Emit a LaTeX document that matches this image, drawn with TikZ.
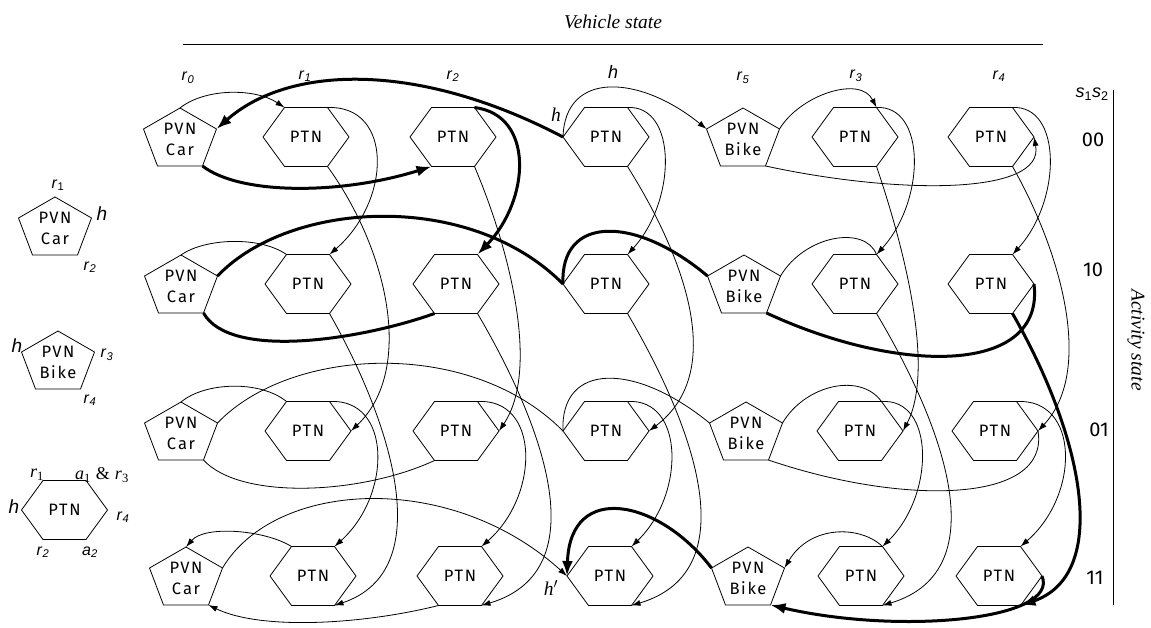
\documentclass[tikz,border=0pt]{standalone}
\usepackage{fontspec}
\setmainfont{Liberation Sans}
\newfontfamily\boxfont[LetterSpace=10]{Fira Sans}
\newfontfamily\digitfont{Fira Sans}
\newfontfamily\seriffont{Liberation Serif}
\usetikzlibrary{arrows.meta}
\newcommand\ptnnode[3]{%
  \node[boxtext] (#1) at (#2,#3) {PTN};
  \begin{scope}[shift={(#2,#3)}]
    \draw[outline] (-43,0) coordinate (#1-l) -- (-21.5,-29.5) coordinate (#1-tl)
      -- (21.5,-29.5) coordinate (#1-tr) -- (43,0) coordinate (#1-r)
      -- (21.5,29.5) coordinate (#1-br) -- (-21.5,29.5) coordinate (#1-bl) -- cycle;
  \end{scope}}
\newcommand\pvnnode[4]{%
  \node[boxtext] (#1) at (#2,#3+2) {PVN\\#4};
  \begin{scope}[shift={(#2,#3)}]
    \draw[outline] (0,-29) coordinate (#1-t) -- (36.5,-8) coordinate (#1-r)
      -- (22.5,29) coordinate (#1-br) -- (-22.5,29) coordinate (#1-bl)
      -- (-36.5,-8) coordinate (#1-l) -- cycle;
  \end{scope}}
\newcommand\sr[2]{{\seriffont\itshape #1}\textsubscript{\seriffont #2}}
\begin{document}
\begin{tikzpicture}[x=1pt,y=-1pt,
  outline/.style={line width=0.8pt},
  boxtext/.style={font=\boxfont\fontsize{16.5}{21}\selectfont,inner sep=0pt,align=center},
  conn/.style={line width=0.8pt},
  connarr/.style={conn,-{Latex[length=9pt,width=6pt]}},
  heavy/.style={line width=3pt},
  heavyarr/.style={heavy,-{Latex[length=15pt,width=11pt]}},
  collabel/.style={font=\fontsize{16}{18}\selectfont,inner sep=0pt},
  rowlabel/.style={font=\digitfont\fontsize{20}{22}\selectfont,inner sep=0pt},
  seriflabel/.style={font=\seriffont\itshape\fontsize{19.5}{22}\selectfont,inner sep=0pt}]
\useasboundingbox (0,0) rectangle (1151,627);

% headings
\node[seriflabel] (vs) at (613,22) {Vehicle state};
\coordinate (vsl) at (183,44);
\coordinate (vsr) at (1043,44);
\draw[line width=0.8pt] (vsl) -- (vsr);
\node[seriflabel,rotate=-90] (as) at (1136,340) {Activity state};
\coordinate (ast) at (1113,90);
\coordinate (asb) at (1113,605);
\draw[line width=0.8pt] (ast) -- (asb);
\node[collabel,font=\fontsize{18}{20}\selectfont] (s12) at (1092,94) {\textit{s}\textsubscript{1}\textit{s}\textsubscript{2}};
\node[rowlabel] (r00) at (1093,140) {00};
\node[rowlabel] (r10) at (1093,270) {10};
\node[rowlabel] (r01) at (1099,430) {01};
\node[rowlabel] (r11) at (1095,578) {11};

% column labels
\node[collabel] (cl0) at (188,78) {\textit{r}\textsubscript{\textit{0}}};
\node[collabel] (cl1) at (305,76) {\textit{r}\textsubscript{\textit{1}}};
\node[collabel] (cl2) at (453,76) {\textit{r}\textsubscript{\textit{2}}};
\node[collabel,font=\fontsize{18}{20}\selectfont] (cl3) at (613,72) {\textit{h}};
\node[collabel] (cl4) at (743,78) {\textit{r}\textsubscript{\textit{5}}};
\node[collabel] (cl5) at (856,76) {\textit{r}\textsubscript{\textit{3}}};
\node[collabel] (cl6) at (999,76) {\textit{r}\textsubscript{\textit{4}}};

% legend
\pvnnode{lc}{55}{226}{C\hspace{2pt}ar}
\node[collabel] (lcr1) at (58,185) {\textit{r}\textsubscript{1}};
\node[collabel,font=\fontsize{19}{20}\selectfont] (lch) at (102,214) {\textit{h}};
\node[collabel] (lcr2) at (90,267) {\textit{r}\textsubscript{\textit{2}}};
\pvnnode{lb}{58}{360}{Bike}
\node[collabel,font=\fontsize{19}{20}\selectfont] (lbh) at (17,346) {\textit{h}};
\node[collabel] (lbr3) at (107,355) {\textit{r}\textsubscript{\textit{3}}};
\node[collabel] (lbr4) at (90,400) {\textit{r}\textsubscript{\textit{4}}};
\ptnnode{lp}{64.5}{510}
\node[inner sep=0pt,font=\fontsize{18}{20}\selectfont] (lpr1) at (37,475) {\sr{r}{1}};
\node[inner sep=0pt,font=\fontsize{18}{20}\selectfont] (lpa1) at (102,475) {\sr{a}{1} {\seriffont\&} \sr{r}{3}};
\node[collabel,font=\fontsize{19}{20}\selectfont] (lph) at (14,507) {\textit{h}};
\node[collabel] (lpr4) at (123,517) {\textit{r}\textsubscript{\textit{4}}};
\node[collabel] (lpr2) at (43,552) {\textit{r}\textsubscript{\textit{2}}};
\node[collabel] (lpa2) at (90,552) {\textit{a}\textsubscript{\textit{2}}};

% grid nodes
\pvnnode{c0}{180}{137}{C\hspace{2pt}ar}
\ptnnode{p01}{306}{137}
\ptnnode{p02}{453}{137}
\ptnnode{p03}{606}{137}
\pvnnode{b0}{743}{137}{Bike}
\ptnnode{p05}{855}{137}
\ptnnode{p06}{991}{137}

\pvnnode{c1}{181}{284}{C\hspace{2pt}ar}
\ptnnode{p11}{308}{284}
\ptnnode{p12}{456}{284}
\ptnnode{p13}{606}{284}
\pvnnode{b1}{744}{284}{Bike}
\ptnnode{p15}{855}{284}
\ptnnode{p16}{991}{284}

\pvnnode{c2}{181}{431}{C\hspace{2pt}ar}
\ptnnode{p21}{308}{431}
\ptnnode{p22}{456}{431}
\ptnnode{p23}{606}{431}
\pvnnode{b2}{746}{431}{Bike}
\ptnnode{p25}{860}{431}
\ptnnode{p26}{995}{431}

\pvnnode{c3}{186}{576}{C\hspace{2pt}ar}
\ptnnode{p31}{313}{576}
\ptnnode{p32}{460}{576}
\ptnnode{p33}{610}{576}
\pvnnode{b3}{748}{576}{Bike}
\ptnnode{p35}{861}{576}
\ptnnode{p36}{999}{576}

\node[seriflabel] (hl) at (556,115) {h};
\node[seriflabel] (hp) at (551,588) {h$'$};

% row 0
\draw[connarr] (c0-t) .. controls (205,88) and (255,88) .. (p01-tl);
\draw[heavyarr] (p03-l) .. controls (420,62) and (290,64) .. (c0-r);
\draw[heavyarr] (c0-br) .. controls (240,195) and (340,195) .. (p02-bl);
\draw[heavyarr] (p02-tr) .. controls (535,115) and (530,200) .. (p12-tr);
\draw[connarr] (p03-l) .. controls (565,70) and (640,75) .. (b0-l);
\draw[connarr] (b0-r) .. controls (800,95) and (860,75) .. (p05-tr);
\draw[connarr] (b0-br) .. controls (900,195) and (1045,195) .. (p06-r);

% activity 1 : 00 -> 10
\draw[connarr] (p01-tr) .. controls (393,105) and (392,200) .. (p11-tr);
\draw[connarr] (p03-tr) .. controls (677,105) and (677,200) .. (p13-tr);
\draw[connarr] (p05-tr) .. controls (926,105) and (926,200) .. (p15-tr);
\draw[connarr] (p06-tr) .. controls (1062,105) and (1062,200) .. (p16-tr);

% activity 2 : 00 -> 01
\draw[connarr] (p01-br) .. controls (388,250) and (415,370) .. (p21-r);
\draw[connarr] (p02-br) .. controls (510,250) and (540,370) .. (p22-r);
\draw[connarr] (p03-br) .. controls (680,250) and (730,370) .. (p23-r);
\draw[connarr] (p05-br) .. controls (905,250) and (935,370) .. (p25-r);
\draw[connarr] (p06-br) .. controls (1060,250) and (1095,370) .. (p26-r);

% activity 2 : 10 -> 11
\draw[connarr] (p11-br) .. controls (390,420) and (440,570) .. (p31-br);
\draw[connarr] (p12-br) .. controls (540,420) and (600,570) .. (p32-br);
\draw[connarr] (p13-br) .. controls (690,420) and (750,570) .. (p33-br);
\draw[connarr] (p15-br) .. controls (940,420) and (1000,570) .. (p35-br);
\draw[heavyarr] (p16-br) .. controls (1085,440) and (1110,575) .. (p36-br);

% activity 1 : 01 -> 11
\draw[connarr] (p21-tr) .. controls (392,398) and (392,495) .. (p31-tr);
\draw[connarr] (p22-tr) .. controls (540,398) and (540,495) .. (p32-tr);
\draw[connarr] (p23-tr) .. controls (685,398) and (685,495) .. (p33-tr);
\draw[connarr] (p25-tr) .. controls (935,398) and (935,495) .. (p35-tr);
\draw[connarr] (p26-tr) .. controls (1080,398) and (1080,495) .. (p36-tr);

% row 1
\draw[conn] (c1-t) .. controls (205,238) and (260,236) .. (p11-tl);
\draw[heavy] (c1-r) .. controls (290,200) and (470,190) .. (p13-l);
\draw[heavy] (p12-bl) .. controls (360,340) and (230,360) .. (c1-br);
\draw[heavy] (p13-l) .. controls (560,215) and (635,215) .. (b1-l);
\draw[conn] (b1-r) .. controls (805,235) and (865,225) .. (p15-tr);
\draw[heavy] (b1-br) .. controls (900,375) and (1045,375) .. (p16-r);

% row 2
\draw[conn] (c2-t) .. controls (205,382) and (260,380) .. (p21-tl);
\draw[conn] (c2-r) .. controls (290,347) and (470,337) .. (p23-l);
\draw[conn] (c2-br) .. controls (240,500) and (360,495) .. (p22-bl);
\draw[conn] (p23-l) .. controls (560,362) and (635,362) .. (b2-l);
\draw[conn] (b2-r) .. controls (805,385) and (860,372) .. (p25-tr);
\draw[conn] (b2-br) .. controls (900,505) and (1050,505) .. (p26-r);

% row 3
\draw[connarr] (p31-tl) .. controls (265,530) and (205,525) .. (c3-t);
\draw[connarr] (p32-bl) .. controls (360,625) and (260,630) .. (c3-br);
\draw[connarr] (c3-r) .. controls (275,480) and (450,470) .. (p33-l);
\draw[heavyarr] (b3-l) .. controls (660,500) and (570,480) .. (p33-l);
\draw[connarr] (p35-tr) .. controls (860,525) and (810,525) .. (b3-r);
\draw[heavyarr] (p36-r) .. controls (1060,620) and (900,635) .. (b3-br);
\end{tikzpicture}
\end{document}
